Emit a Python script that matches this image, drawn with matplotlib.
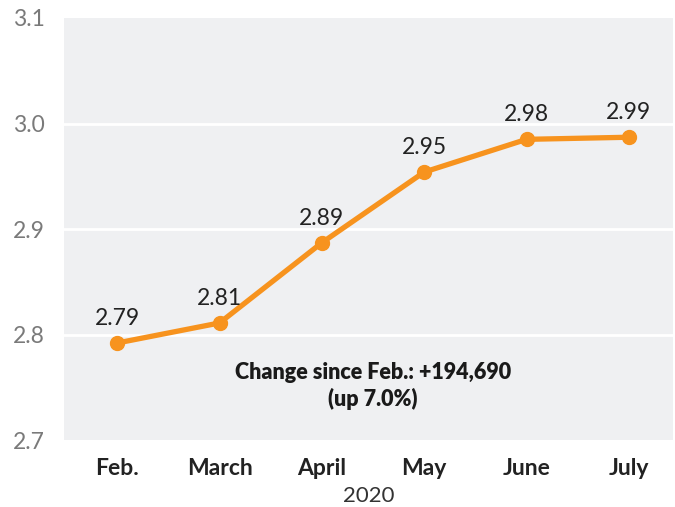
import matplotlib
matplotlib.use('Agg')
import matplotlib.pyplot as plt

months = ['Feb.', 'March', 'April', 'May', 'June', 'July']
values = [2.792, 2.811, 2.887, 2.954, 2.985, 2.987]
labels = ['2.79', '2.81', '2.89', '2.95', '2.98', '2.99']
yticks = [2.7, 2.8, 2.9, 3.0, 3.1]

plt.rcParams['font.family'] = ['Lato', 'DejaVu Sans']

fig = plt.figure(figsize=(6.75, 5.07), dpi=100)
ax = fig.add_axes([0.0948, 0.132, 0.902, 0.8325])
ax.set_facecolor('#eff0f2')

x = list(range(len(months)))
for t in yticks[1:-1]:
    ax.axhline(t, color='white', lw=2, zorder=1)

ax.plot(x, values, color='#f7931e', lw=3.8, marker='o', markersize=10,
        solid_capstyle='round', zorder=3)

for xi, v, lab in zip(x, values, labels):
    ax.annotate(lab, (xi, v), xytext=(0, 10), textcoords='offset points',
                ha='center', va='bottom', fontsize=16.5, color='#222222')

ax.text(2.5, 2.751, 'Change since Feb.: +194,690\n(up 7.0%)', ha='center', va='center',
        fontsize=15.5, fontweight='heavy', color='#1a1a1a', linespacing=1.25)

ax.set_xlim(-0.52, 5.43)
ax.set_ylim(2.7, 3.1)
ax.set_yticks(yticks)
ax.set_yticklabels(['2.7', '2.8', '2.9', '3.0', '3.1'], fontsize=16.5,
                   color='#7a7a7a')
ax.set_xticks(x)
ax.set_xticklabels(months, fontsize=16.5, fontweight='bold', color='#222222')
ax.tick_params(axis='y', length=0, pad=14)
ax.tick_params(axis='x', length=0, pad=13)
ax.set_xlabel('2020', fontsize=16, color='#333333', labelpad=5)
for s in ax.spines.values():
    s.set_visible(False)

fig.savefig('out.png', dpi=100)
